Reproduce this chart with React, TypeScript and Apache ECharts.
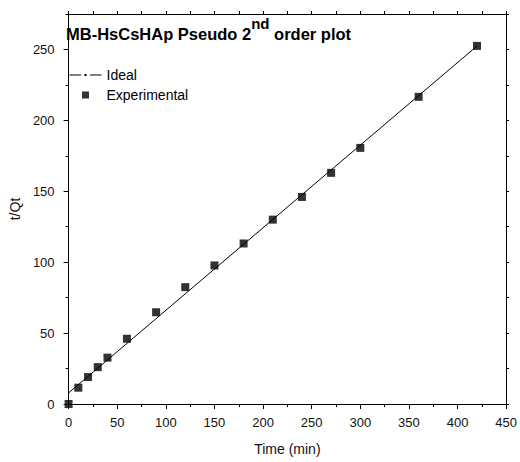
import React, { useEffect, useRef } from "react";
import * as echarts from "echarts";

const timeMin = [0, 10, 20, 30, 40, 60, 90, 120, 150, 180, 210, 240, 270, 300, 360, 420];
const tQt = [0, 11.5, 19, 26, 32.7, 46, 64.7, 82.4, 97.7, 113.2, 130, 146, 163, 180.6, 216.6, 252.5];
const idealTime = [0, 420];
const idealValues = [7.8, 252.4];
const seriesNames = ["Ideal", "Experimental"];
const titleParts = ["MB-HsCsHAp Pseudo 2", "nd", " order plot"];
const xName = "Time (min)";
const yName = "t/Qt";

const FONT = "Liberation Sans, Arial, sans-serif";

export default function App() {
  const ref = useRef<HTMLDivElement>(null);
  useEffect(() => {
    if (!ref.current) return;
    const chart = echarts.init(ref.current, undefined, { renderer: "svg" });
    const axisLine = () => ({ show: true, onZero: false, lineStyle: { color: "#000", width: 1 } });
    const option: any = {
      animation: false,
      backgroundColor: "#fff",
      textStyle: { fontFamily: FONT },
      title: {
        left: 66,
        top: 16,
        padding: 0,
        text: `{a|${titleParts[0]}}{b|${titleParts[1]}}{a|${titleParts[2]}}`,
        textStyle: {
          rich: {
            a: { fontSize: 16.5, fontWeight: "bold", color: "#000", lineHeight: 26, verticalAlign: "bottom", fontFamily: FONT },
            b: { fontSize: 15, fontWeight: "bold", color: "#000", lineHeight: 10, verticalAlign: "top", fontFamily: FONT },
          },
        },
      },
      legend: {
        orient: "vertical",
        left: 69,
        top: 65,
        padding: 0,
        itemGap: 0,
        itemWidth: 32,
        itemHeight: 7,
        selectedMode: false,
        symbolKeepAspect: true,
        lineStyle: { width: 1 },
        textStyle: { fontSize: 14, lineHeight: 20, color: "#000", fontFamily: FONT },
        data: [
          { name: seriesNames[0], itemStyle: { borderColor: "#fff", borderWidth: 3.5 } },
          { name: seriesNames[1], icon: "path://M0,0H10V10H0Z" },
        ],
      },
      grid: { left: 64, right: 13, top: 14, bottom: 58, containLabel: false },
      xAxis: [
        {
          type: "value",
          position: "bottom",
          min: 0,
          max: 450,
          interval: 50,
          axisLine: axisLine(),
          axisTick: { show: true, length: 5, lineStyle: { color: "#000" } },
          minorTick: { show: true, splitNumber: 2, length: 3, lineStyle: { color: "#000" } },
          splitLine: { show: false },
          axisLabel: { fontSize: 13, color: "#111", margin: 12, fontFamily: FONT },
          name: xName,
          nameLocation: "middle",
          nameGap: 38,
          nameTextStyle: { fontSize: 14, color: "#111", fontFamily: FONT },
        },
        {
          type: "value",
          position: "top",
          min: 0,
          max: 450,
          interval: 25,
          axisLine: axisLine(),
          axisTick: { show: true, length: 3, lineStyle: { color: "#000" } },
          splitLine: { show: false },
          axisLabel: { show: false },
        },
      ],
      yAxis: [
        {
          type: "value",
          position: "left",
          min: 0,
          max: 275,
          interval: 50,
          axisLine: axisLine(),
          axisTick: { show: true, length: 5, lineStyle: { color: "#000" } },
          splitLine: { show: false },
          axisLabel: { fontSize: 13, color: "#111", margin: 14, showMaxLabel: false, fontFamily: FONT },
          name: yName,
          nameLocation: "middle",
          nameGap: 40,
          nameTextStyle: { fontSize: 14, color: "#111", fontFamily: FONT },
        },
        {
          type: "value",
          position: "left",
          min: 0,
          max: 275,
          interval: 25,
          axisLine: { show: false, onZero: false },
          axisTick: { show: true, length: 3, lineStyle: { color: "#000" } },
          splitLine: { show: false },
          axisLabel: { show: false },
        },
        {
          type: "value",
          position: "right",
          min: 0,
          max: 275,
          interval: 25,
          axisLine: axisLine(),
          axisTick: { show: true, length: 3, lineStyle: { color: "#000" } },
          splitLine: { show: false },
          axisLabel: { show: false },
        },
      ],
      series: [
        {
          name: seriesNames[0],
          type: "line",
          xAxisIndex: 0,
          yAxisIndex: 0,
          data: idealTime.map((t, i) => [t, idealValues[i]]),
          symbol: "rect",
          symbolSize: 3,
          showSymbol: false,
          lineStyle: { color: "#000", width: 1 },
          itemStyle: { color: "#000" },
          z: 2,
        },
        {
          name: seriesNames[1],
          type: "scatter",
          xAxisIndex: 0,
          yAxisIndex: 0,
          data: timeMin.map((t, i) => [t, tQt[i]]),
          symbol: "rect",
          symbolSize: 8,
          clip: true,
          itemStyle: { color: "#000" },
          z: 3,
        },
      ],
    };
    chart.setOption(option);
    return () => chart.dispose();
  }, []);
  return (
    <div
      ref={ref}
      style={{ position: "fixed", left: 0, top: 0, width: 520, height: 462 }}
    />
  );
}
